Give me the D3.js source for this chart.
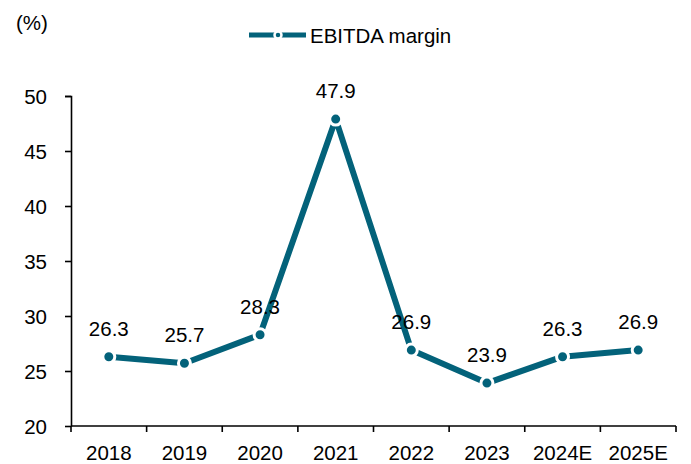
<!DOCTYPE html>
<html>
<head>
<meta charset="utf-8">
<script src="https://cdn.jsdelivr.net/npm/d3@7"></script>
<style>
  body { margin: 0; background: #fff; }
  text { font-family: Arial, "Liberation Sans", sans-serif; fill: #000; }
</style>
</head>
<body>
<svg id="chart"></svg>
<script>
const years = ["2018", "2019", "2020", "2021", "2022", "2023", "2024E", "2025E"]
const margin = [26.3, 25.7, 28.3, 47.9, 26.9, 23.9, 26.3, 26.9]
const yTicks = [20, 25, 30, 35, 40, 45, 50]

const width = 691
const height = 464
const lineColor = "#03627a"
const fontSize = "20.5px"

const svg = d3.select("#chart")
              .attr("width", width)
              .attr("height", height)

const x = d3.scaleBand()
            .domain(years)
            .range([71, 676])

const y = d3.scaleLinear()
            .domain([20, 50])
            .range([426, 96])

// y axis
const yAxis = svg.append("g")
                 .attr("transform", "translate(71,0)")
                 .call(d3.axisLeft(y).tickValues(yTicks).tickSize(6).tickPadding(18))
yAxis.selectAll("text").style("font-size", fontSize).attr("dy", "0.36em")
yAxis.selectAll("line, path").attr("stroke", "#000").attr("stroke-width", 1.6)
yAxis.select(".domain").attr("d", "M-6,96.5H0.5V426.5")

// x axis with ticks between categories
const xAxis = svg.append("g")
                 .attr("transform", "translate(0,426)")
xAxis.append("line")
     .attr("x1", 71).attr("x2", 676)
     .attr("stroke", "#000").attr("stroke-width", 1.6)
const bounds = years.map(d => x(d)).concat([x.range()[1]])
xAxis.selectAll(".xtick")
     .data(bounds)
     .join("line")
     .attr("class", "xtick")
     .attr("x1", d => d).attr("x2", d => d)
     .attr("y1", 0).attr("y2", 6)
     .attr("stroke", "#000").attr("stroke-width", 1.6)
xAxis.selectAll(".xlab")
     .data(years)
     .join("text")
     .attr("class", "xlab")
     .attr("x", d => x(d) + x.bandwidth() / 2)
     .attr("y", 34)
     .attr("text-anchor", "middle")
     .style("font-size", fontSize)
     .text(d => d)

// unit label
svg.append("text")
   .attr("x", 16).attr("y", 30)
   .style("font-size", fontSize)
   .text("(%)")

const cx = (d, i) => x(years[i]) + x.bandwidth() / 2

// line
const line = d3.line()
               .x((d, i) => cx(d, i))
               .y(d => y(d))
svg.append("path")
   .datum(margin)
   .attr("d", line)
   .attr("fill", "none")
   .attr("stroke", lineColor)
   .attr("stroke-width", 6)
   .attr("stroke-linejoin", "round")

// markers with white ring
svg.selectAll(".dot")
   .data(margin)
   .join("circle")
   .attr("class", "dot")
   .attr("cx", cx)
   .attr("cy", d => y(d))
   .attr("r", 6)
   .attr("fill", lineColor)
   .attr("stroke", "#fff")
   .attr("stroke-width", 3)

// value labels
svg.selectAll(".val")
   .data(margin)
   .join("text")
   .attr("class", "val")
   .attr("x", cx)
   .attr("y", d => y(d) - 21)
   .attr("text-anchor", "middle")
   .style("font-size", fontSize)
   .text(d => d.toFixed(1))

// legend
const legend = svg.append("g")
legend.append("line")
      .attr("x1", 249).attr("x2", 306)
      .attr("y1", 35).attr("y2", 35)
      .attr("stroke", lineColor)
      .attr("stroke-width", 5)
legend.append("circle")
      .attr("cx", 278).attr("cy", 35)
      .attr("r", 3.5)
      .attr("fill", lineColor)
      .attr("stroke", "#fff")
      .attr("stroke-width", 2.5)
legend.append("text")
      .attr("x", 310).attr("y", 43)
      .style("font-size", fontSize)
      .text("EBITDA margin")
</script>
</body>
</html>
